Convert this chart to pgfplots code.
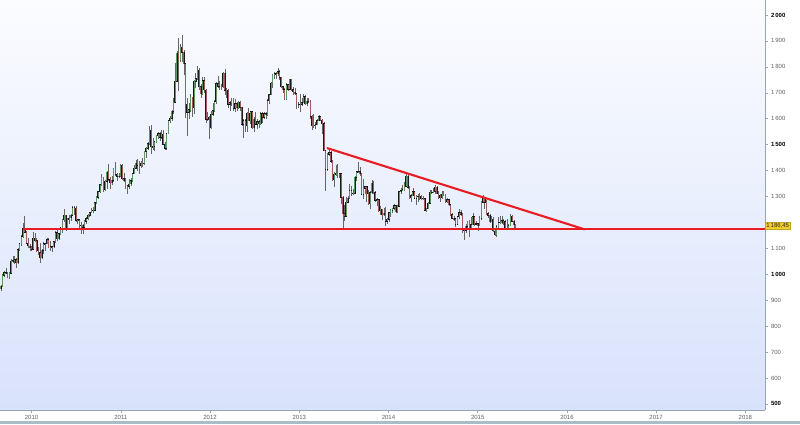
\documentclass[border=0pt]{standalone}
\usepackage{pgfplots}
\pgfplotsset{compat=1.18}
\usepackage{pgfplotstable}
\usepackage{fontspec}
\setmainfont{Liberation Sans}
\definecolor{upc}{RGB}{96,150,96}
\definecolor{dnc}{RGB}{160,92,92}
\definecolor{trend}{RGB}{232,28,34}
\definecolor{bgtop}{RGB}{251,252,255}
\definecolor{bgbot}{RGB}{216,226,251}
\definecolor{tickgray}{RGB}{95,95,95}
\definecolor{axgray}{RGB}{150,165,185}
\definecolor{band}{RGB}{168,190,196}
\definecolor{pricebox}{RGB}{242,206,40}
\newcommand{\nl}[1]{\textcolor{tickgray}{#1}}
\newcommand{\bl}[1]{\textcolor{black}{\textbf{#1}}}

% weekly gold candles, Aug 2009 - Jun 2015: open high low close
\pgfplotstableread{
o h l c
944 960 936 955
955 1000 950 996
996 1012 990 1006
1006 1025 1000 1004
1004 1010 985 991
991 1008 980 1003
1003 1058 1000 1050
1050 1070 1042 1052
1052 1070 1040 1056
1056 1062 1025 1045
1045 1100 1040 1095
1095 1120 1088 1118
1118 1150 1110 1145
1145 1196 1140 1178
1178 1226 1160 1162
1162 1165 1115 1119
1119 1140 1100 1109
1109 1115 1090 1104
1104 1110 1090 1096
1096 1162 1096 1138
1138 1160 1125 1130
1130 1140 1085 1090
1090 1105 1075 1083
1083 1120 1045 1064
1064 1096 1058 1092
1092 1125 1080 1118
1118 1122 1090 1117
1117 1140 1115 1133
1133 1140 1100 1102
1102 1130 1088 1107
1107 1110 1085 1105
1105 1130 1100 1125
1125 1165 1120 1161
1161 1170 1130 1136
1136 1160 1132 1157
1157 1184 1150 1180
1180 1212 1160 1209
1209 1250 1200 1228
1228 1230 1165 1177
1177 1216 1172 1213
1213 1230 1195 1217
1217 1232 1205 1228
1228 1262 1225 1257
1257 1264 1230 1256
1256 1262 1203 1208
1208 1215 1192 1210
1210 1214 1180 1188
1188 1203 1157 1189
1189 1195 1155 1181
1181 1208 1175 1204
1204 1222 1195 1215
1215 1232 1210 1227
1227 1242 1222 1237
1237 1255 1235 1247
1247 1258 1238 1246
1246 1280 1245 1276
1276 1300 1272 1297
1297 1320 1290 1318
1318 1349 1312 1346
1346 1388 1340 1370
1370 1375 1318 1325
1325 1362 1320 1358
1358 1398 1330 1394
1394 1424 1360 1367
1367 1375 1330 1352
1352 1380 1345 1362
1362 1410 1355 1406
1406 1432 1380 1385
1385 1392 1360 1378
1378 1392 1370 1379
1379 1424 1375 1421
1421 1424 1362 1369
1369 1390 1355 1360
1360 1370 1330 1342
1342 1345 1309 1340
1340 1368 1330 1348
1348 1370 1340 1361
1361 1390 1355 1388
1388 1420 1385 1409
1409 1440 1405 1429
1429 1445 1400 1421
1421 1436 1385 1418
1418 1435 1410 1428
1428 1448 1415 1429
1429 1476 1420 1474
1474 1490 1450 1486
1486 1510 1480 1504
1504 1570 1500 1556
1556 1577 1462 1492
1492 1525 1480 1493
1493 1515 1475 1511
1511 1538 1505 1536
1536 1550 1520 1542
1542 1550 1515 1529
1529 1555 1520 1540
1540 1558 1500 1502
1502 1510 1478 1486
1486 1545 1480 1542
1542 1595 1540 1592
1592 1610 1585 1601
1601 1632 1590 1628
1628 1680 1620 1663
1663 1815 1660 1745
1745 1860 1740 1852
1852 1912 1705 1828
1828 1890 1820 1877
1877 1921 1820 1856
1856 1865 1770 1812
1812 1815 1604 1657
1657 1680 1535 1624
1624 1660 1600 1635
1635 1695 1625 1682
1682 1685 1605 1642
1642 1750 1620 1745
1745 1775 1720 1755
1755 1802 1750 1788
1788 1795 1710 1724
1724 1735 1680 1696
1696 1760 1692 1746
1746 1760 1700 1711
1711 1715 1585 1597
1597 1625 1590 1606
1606 1612 1523 1566
1566 1628 1562 1617
1617 1660 1610 1631
1631 1672 1625 1665
1665 1740 1655 1735
1735 1764 1718 1725
1725 1745 1710 1725
1725 1735 1710 1724
1724 1781 1720 1776
1776 1791 1690 1710
1710 1720 1680 1711
1711 1714 1640 1656
1656 1670 1630 1662
1662 1680 1650 1668
1668 1680 1630 1640
1640 1675 1625 1658
1658 1665 1630 1642
1642 1670 1638 1663
1663 1670 1630 1644
1644 1647 1570 1579
1579 1600 1527 1592
1592 1600 1550 1573
1573 1626 1550 1622
1622 1640 1590 1592
1592 1630 1580 1627
1627 1628 1562 1566
1566 1605 1550 1598
1598 1625 1575 1579
1579 1600 1560 1589
1589 1595 1565 1580
1580 1625 1575 1619
1619 1625 1585 1606
1606 1625 1600 1620
1620 1625 1598 1616
1616 1675 1612 1670
1670 1695 1655 1692
1692 1740 1690 1738
1738 1772 1720 1769
1769 1780 1755 1774
1774 1781 1755 1773
1773 1795 1765 1782
1782 1786 1750 1759
1759 1760 1718 1724
1724 1725 1700 1712
1712 1718 1672 1676
1676 1738 1672 1731
1731 1735 1705 1714
1714 1755 1712 1752
1752 1754 1705 1712
1712 1722 1690 1703
1703 1720 1690 1697
1697 1698 1636 1657
1657 1665 1640 1657
1657 1695 1625 1656
1656 1680 1648 1662
1662 1695 1660 1685
1685 1692 1652 1658
1658 1680 1650 1667
1667 1680 1660 1667
1667 1673 1600 1610
1610 1615 1555 1573
1573 1618 1565 1576
1576 1588 1562 1577
1577 1597 1574 1592
1592 1616 1590 1608
1608 1612 1590 1595
1595 1600 1540 1581
1581 1588 1475 1477
1477 1480 1321 1405
1405 1468 1400 1463
1463 1488 1455 1469
1469 1475 1430 1435
1435 1440 1360 1365
1365 1394 1337 1386
1386 1420 1380 1391
1391 1424 1370 1383
1383 1392 1370 1388
1388 1390 1272 1297
1297 1300 1180 1234
1234 1267 1207 1223
1223 1298 1220 1278
1278 1300 1275 1294
1294 1348 1290 1322
1322 1340 1300 1311
1311 1330 1305 1313
1313 1380 1310 1374
1374 1400 1360 1396
1396 1433 1390 1395
1395 1412 1380 1387
1387 1390 1305 1308
1308 1368 1290 1332
1332 1340 1310 1338
1338 1340 1280 1310
1310 1325 1266 1272
1272 1323 1251 1315
1315 1362 1310 1352
1352 1361 1310 1315
1315 1322 1280 1285
1285 1294 1262 1287
1287 1290 1240 1244
1244 1265 1230 1250
1250 1253 1210 1230
1230 1255 1225 1235
1235 1260 1185 1204
1204 1218 1195 1212
1212 1240 1200 1237
1237 1250 1220 1247
1247 1256 1238 1254
1254 1270 1248 1264
1264 1268 1238 1240
1240 1268 1238 1262
1262 1320 1260 1318
1318 1332 1310 1323
1323 1345 1320 1326
1326 1355 1322 1339
1339 1385 1335 1379
1379 1392 1330 1335
1335 1340 1290 1294
1294 1310 1277 1303
1303 1331 1300 1318
1318 1320 1290 1293
1293 1305 1268 1300
1300 1310 1280 1300
1300 1315 1285 1290
1290 1305 1285 1293
1293 1300 1285 1292
1292 1295 1245 1246
1246 1256 1240 1252
1252 1280 1250 1274
1274 1325 1270 1316
1316 1325 1308 1316
1316 1332 1315 1320
1320 1345 1310 1337
1337 1340 1308 1310
1310 1320 1290 1304
1304 1310 1280 1294
1294 1322 1290 1310
1310 1320 1300 1305
1305 1310 1275 1280
1280 1295 1275 1287
1287 1290 1262 1268
1268 1270 1225 1230
1230 1238 1212 1216
1216 1225 1205 1214
1214 1218 1183 1192
1192 1225 1190 1222
1222 1250 1215 1238
1238 1248 1225 1231
1231 1235 1160 1171
1171 1180 1131 1169
1169 1195 1160 1185
1185 1205 1180 1201
1201 1208 1142 1175
1175 1220 1175 1191
1191 1238 1190 1222
1222 1225 1185 1195
1195 1205 1190 1195
1195 1198 1168 1186
1186 1225 1185 1216
1216 1282 1210 1277
1277 1307 1276 1293
1293 1298 1252 1278
1278 1285 1230 1234
1234 1242 1218 1228
1228 1232 1197 1203
1203 1225 1200 1212
1212 1222 1163 1167
1167 1172 1147 1152
1152 1190 1142 1183
1183 1220 1180 1199
1199 1225 1195 1201
1201 1225 1192 1206
1206 1212 1190 1203
1203 1208 1175 1175
1175 1215 1170 1178
1178 1195 1170 1188
1188 1232 1185 1225
1225 1228 1200 1205
1205 1210 1180 1190
1190 1195 1175 1186
}\gold

\begin{document}
\begin{tikzpicture}
\begin{axis}[
  at={(0pt,0pt)}, anchor=south west,
  scale only axis, width=765pt, height=410pt,
  xmin=2009.646, xmax=2018.22, ymin=476.5, ymax=2057.9,
  clip mode=individual,
  axis x line*=bottom, axis y line*=right,
  axis line style={draw=axgray, line width=0.8pt},
  axis background/.style={top color=bgtop, bottom color=bgbot},
  tick align=outside, major tick length=3pt,
  tick style={draw=axgray, line width=0.5pt},
  xtick={2010,2011,2012,2013,2014,2015,2016,2017,2018},
  xticklabels={\nl{2010},\nl{2011},\nl{2012},\nl{2013},\nl{2014},\nl{2015},\nl{2016},\nl{2017},\nl{2018}},
  ytick={500,600,700,800,900,1000,1100,1200,1300,1400,1500,1600,1700,1800,1900,2000},
  yticklabels={\bl{500},\nl{600},\nl{700},\nl{800},\nl{900},\bl{1\,000},\nl{1\,100},{},\nl{1\,300},\nl{1\,400},\bl{1\,500},\nl{1\,600},\nl{1\,700},\nl{1\,800},\nl{1\,900},\bl{2\,000}},
  /pgf/number format/assume math mode=true,
  tick label style={font=\fontsize{6}{7}\selectfont},
  xticklabel style={yshift=1pt},
  yticklabel style={xshift=-0.5pt},
]
% wicks
\addplot[draw=none, mark=none, forget plot,
  error bars/.cd, y dir=both, y explicit, error mark=none,
  error bar style={draw=black!60, line width=0.5pt}]
  table[x expr=2009.655+\coordindex*0.019165,
        y expr={(\thisrow{h}+\thisrow{l})/2},
        y error expr={(\thisrow{h}-\thisrow{l})/2}] {\gold};
% candle body outlines
\addplot[draw=none, mark=none, forget plot,
  error bars/.cd, y dir=both, y explicit, error mark=none,
  error bar style={draw=black!90, line width=1.6pt}]
  table[x expr=2009.655+\coordindex*0.019165,
        y expr={(\thisrow{c}+\thisrow{o})/2},
        y error expr={abs(\thisrow{c}-\thisrow{o})/2+1.5}] {\gold};
% candle bodies, up weeks
\addplot[draw=none, mark=none, forget plot,
  error bars/.cd, y dir=both, y explicit, error mark=none,
  error bar style={draw=upc, line width=0.9pt}]
  table[x expr=2009.655+\coordindex*0.019165,
        y expr={ifthenelse(\thisrow{c}>\thisrow{o},(\thisrow{c}+\thisrow{o})/2,-1000)},
        y error expr={abs(\thisrow{c}-\thisrow{o})/2}] {\gold};
% candle bodies, down weeks
\addplot[draw=none, mark=none, forget plot,
  error bars/.cd, y dir=both, y explicit, error mark=none,
  error bar style={draw=dnc, line width=0.9pt}]
  table[x expr=2009.655+\coordindex*0.019165,
        y expr={ifthenelse(\thisrow{o}>\thisrow{c},(\thisrow{c}+\thisrow{o})/2,-1000)},
        y error expr={abs(\thisrow{c}-\thisrow{o})/2}] {\gold};
% trend lines
\addplot[trend, line width=1.9pt, forget plot] coordinates {(2009.9,1173) (2018.22,1173)};
\addplot[trend, line width=2.1pt, forget plot] coordinates {(2013.31,1487) (2016.2,1173)};
% last price label
\node[anchor=west, fill=pricebox, draw=pricebox!80!black, line width=0.3pt,
  inner xsep=1.2pt, inner ysep=1pt, font=\fontsize{6}{7}\selectfont, text=black!85]
  at (axis cs:2018.22,1187) {1\,186,45};
\end{axis}
\fill[band] (0pt,-14pt) rectangle (800pt,-10.5pt);
\pgfresetboundingbox
\path[use as bounding box] (0pt,-14pt) rectangle (800pt,410pt);
\end{tikzpicture}
\end{document}
